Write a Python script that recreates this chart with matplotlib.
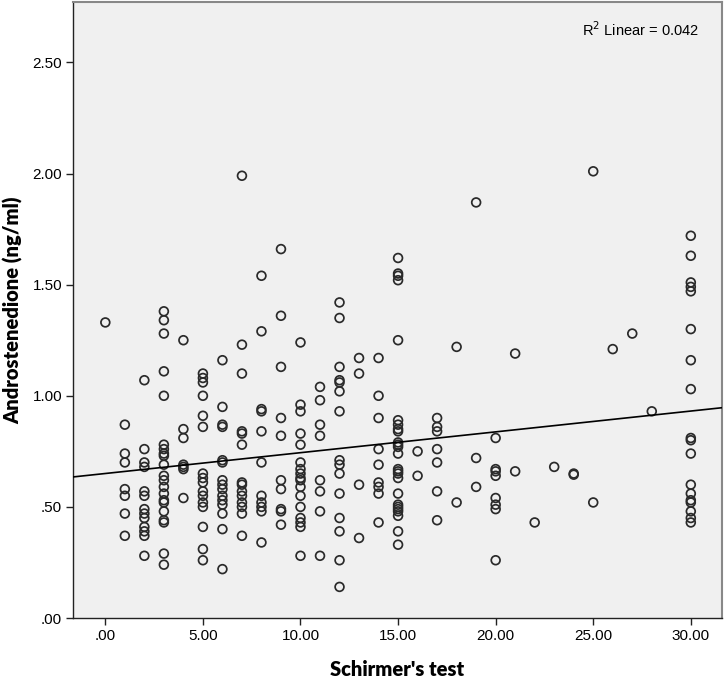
import numpy as np
import matplotlib.pyplot as plt

# Schirmer's test (mm) and androstenedione (ng/ml)
schirmer = [0,
            1, 1, 1, 1, 1, 1, 1,
            2, 2, 2, 2, 2, 2, 2, 2, 2, 2, 2, 2, 2,
            3, 3, 3, 3, 3, 3, 3, 3, 3, 3, 3, 3, 3, 3, 3, 3, 3, 3, 3, 3, 3,
            4, 4, 4, 4, 4, 4, 4,
            5, 5, 5, 5, 5, 5, 5, 5, 5, 5, 5, 5, 5, 5, 5, 5,
            6, 6, 6, 6, 6, 6, 6, 6, 6, 6, 6, 6, 6, 6, 6,
            7, 7, 7, 7, 7, 7, 7, 7, 7, 7, 7, 7, 7, 7,
            8, 8, 8, 8, 8, 8, 8, 8, 8, 8, 8,
            9, 9, 9, 9, 9, 9, 9, 9, 9, 9,
            10, 10, 10, 10, 10, 10, 10, 10, 10, 10, 10, 10, 10, 10, 10, 10, 10,
            11, 11, 11, 11, 11, 11, 11, 11,
            12, 12, 12, 12, 12, 12, 12, 12, 12, 12, 12, 12, 12, 12, 12,
            13, 13, 13, 13,
            14, 14, 14, 14, 14, 14, 14, 14, 14,
            15, 15, 15, 15, 15, 15, 15, 15, 15, 15, 15, 15, 15, 15, 15, 15, 15,
            15, 15, 15, 15, 15, 15, 15, 15,
            16, 16,
            17, 17, 17, 17, 17, 17, 17,
            18, 18,
            19, 19, 19,
            20, 20, 20, 20, 20, 20, 20, 20,
            21, 21,
            22,
            23,
            24, 24,
            25, 25,
            26,
            27,
            28,
            30, 30, 30, 30, 30, 30, 30, 30, 30, 30, 30, 30, 30, 30, 30, 30, 30, 30]

andro = [1.33,
         0.87, 0.74, 0.70, 0.58, 0.55, 0.47, 0.37,
         1.07, 0.76, 0.70, 0.68, 0.57, 0.55, 0.49, 0.47, 0.45, 0.41, 0.39, 0.37, 0.28,
         1.38, 1.34, 1.28, 1.11, 1.00, 0.78, 0.76, 0.74, 0.73, 0.69, 0.64, 0.62, 0.59,
         0.56, 0.53, 0.52, 0.48, 0.44, 0.43, 0.29, 0.24,
         1.25, 0.85, 0.81, 0.69, 0.68, 0.67, 0.54,
         1.10, 1.08, 1.06, 1.00, 0.91, 0.86, 0.65, 0.63, 0.61, 0.57, 0.55, 0.52, 0.50,
         0.41, 0.31, 0.26,
         1.16, 0.95, 0.87, 0.86, 0.71, 0.70, 0.62, 0.60, 0.58, 0.55, 0.53, 0.51, 0.47,
         0.40, 0.22,
         1.99, 1.23, 1.10, 0.84, 0.83, 0.78, 0.61, 0.60, 0.57, 0.55, 0.52, 0.50, 0.47, 0.37,
         1.54, 1.29, 0.94, 0.93, 0.84, 0.70, 0.55, 0.52, 0.50, 0.48, 0.34,
         1.66, 1.36, 1.13, 0.90, 0.82, 0.62, 0.58, 0.49, 0.48, 0.42,
         1.24, 0.96, 0.93, 0.83, 0.78, 0.70, 0.67, 0.65, 0.63, 0.62, 0.59, 0.55, 0.50,
         0.45, 0.43, 0.41, 0.28,
         1.04, 0.98, 0.87, 0.82, 0.62, 0.57, 0.48, 0.28,
         1.42, 1.35, 1.13, 1.07, 1.06, 1.02, 0.93, 0.71, 0.69, 0.65, 0.56, 0.45, 0.39,
         0.26, 0.14,
         1.17, 1.10, 0.60, 0.36,
         1.17, 1.00, 0.90, 0.76, 0.69, 0.61, 0.59, 0.56, 0.43,
         1.62, 1.55, 1.54, 1.52, 1.25, 0.89, 0.87, 0.85, 0.84, 0.79, 0.78, 0.77, 0.74,
         0.67, 0.66, 0.65, 0.63, 0.56, 0.51, 0.50, 0.49, 0.48, 0.46, 0.39, 0.33,
         0.75, 0.64,
         0.90, 0.86, 0.84, 0.76, 0.70, 0.57, 0.44,
         1.22, 0.52,
         1.87, 0.72, 0.59,
         0.81, 0.67, 0.66, 0.64, 0.54, 0.51, 0.49, 0.26,
         1.19, 0.66,
         0.43,
         0.68,
         0.65, 0.645,
         2.01, 0.52,
         1.21,
         1.28,
         0.93,
         1.72, 1.63, 1.51, 1.49, 1.47, 1.30, 1.16, 1.03, 0.81, 0.80, 0.74, 0.60, 0.56,
         0.53, 0.52, 0.48, 0.45, 0.43]

x_ticks = [0, 5, 10, 15, 20, 25, 30]
y_ticks = [0, 0.5, 1.0, 1.5, 2.0, 2.5]
r2_label = "R$^2$ Linear = 0.042"

x = np.array(schirmer, dtype=float)
y = np.array(andro)

plt.rcParams['font.family'] = ['Liberation Sans', 'DejaVu Sans']

fig = plt.figure(figsize=(7.26, 6.79), dpi=100)
ax = fig.add_axes([0.101, 0.0898, 0.893, 0.907])
ax.set_facecolor('#f0f0f0')

ax.scatter(x, y, s=40, facecolors='none', edgecolors='#2a2a2a', linewidths=1.25, zorder=3)

# linear fit line across the whole axis
xmin, xmax = -1.64, 31.58
slope, intercept = np.polyfit(x, y, 1)
xs = np.array([xmin, xmax])
ax.plot(xs, intercept + slope * xs, color='black', lw=1.2, zorder=4)

ax.set_xlim(xmin, xmax)
ax.set_ylim(0, 2.771)

def fmt(v):
    s = f"{v:.2f}"
    return s[1:] if s.startswith("0") else s

ax.set_xticks(x_ticks)
ax.set_xticklabels([fmt(v) for v in x_ticks])
ax.set_yticks(y_ticks)
ax.set_yticklabels([fmt(v) for v in y_ticks])
ax.tick_params(axis='both', direction='out', length=5, width=1, color='#222222',
               labelsize=11, pad=3)
ax.tick_params(top=False, right=False)

for side in ['left', 'bottom']:
    ax.spines[side].set_color('#222222')
    ax.spines[side].set_linewidth(1.0)
for side in ['top', 'right']:
    ax.spines[side].set_color('#888888')
    ax.spines[side].set_linewidth(1.5)

ax.set_xlabel("Schirmer's test", fontsize=14.5, fontweight='heavy',
              family=['Lato', 'DejaVu Sans'], labelpad=12)
ax.set_ylabel("Androstenedione (ng/ml)", fontsize=14.5, fontweight='heavy',
              family=['Lato', 'DejaVu Sans'], labelpad=7)

ax.text(0.965, 0.955, r2_label, transform=ax.transAxes, ha='right', va='center',
        fontsize=10.5)

plt.savefig('out.png', dpi=100)
plt.close()
